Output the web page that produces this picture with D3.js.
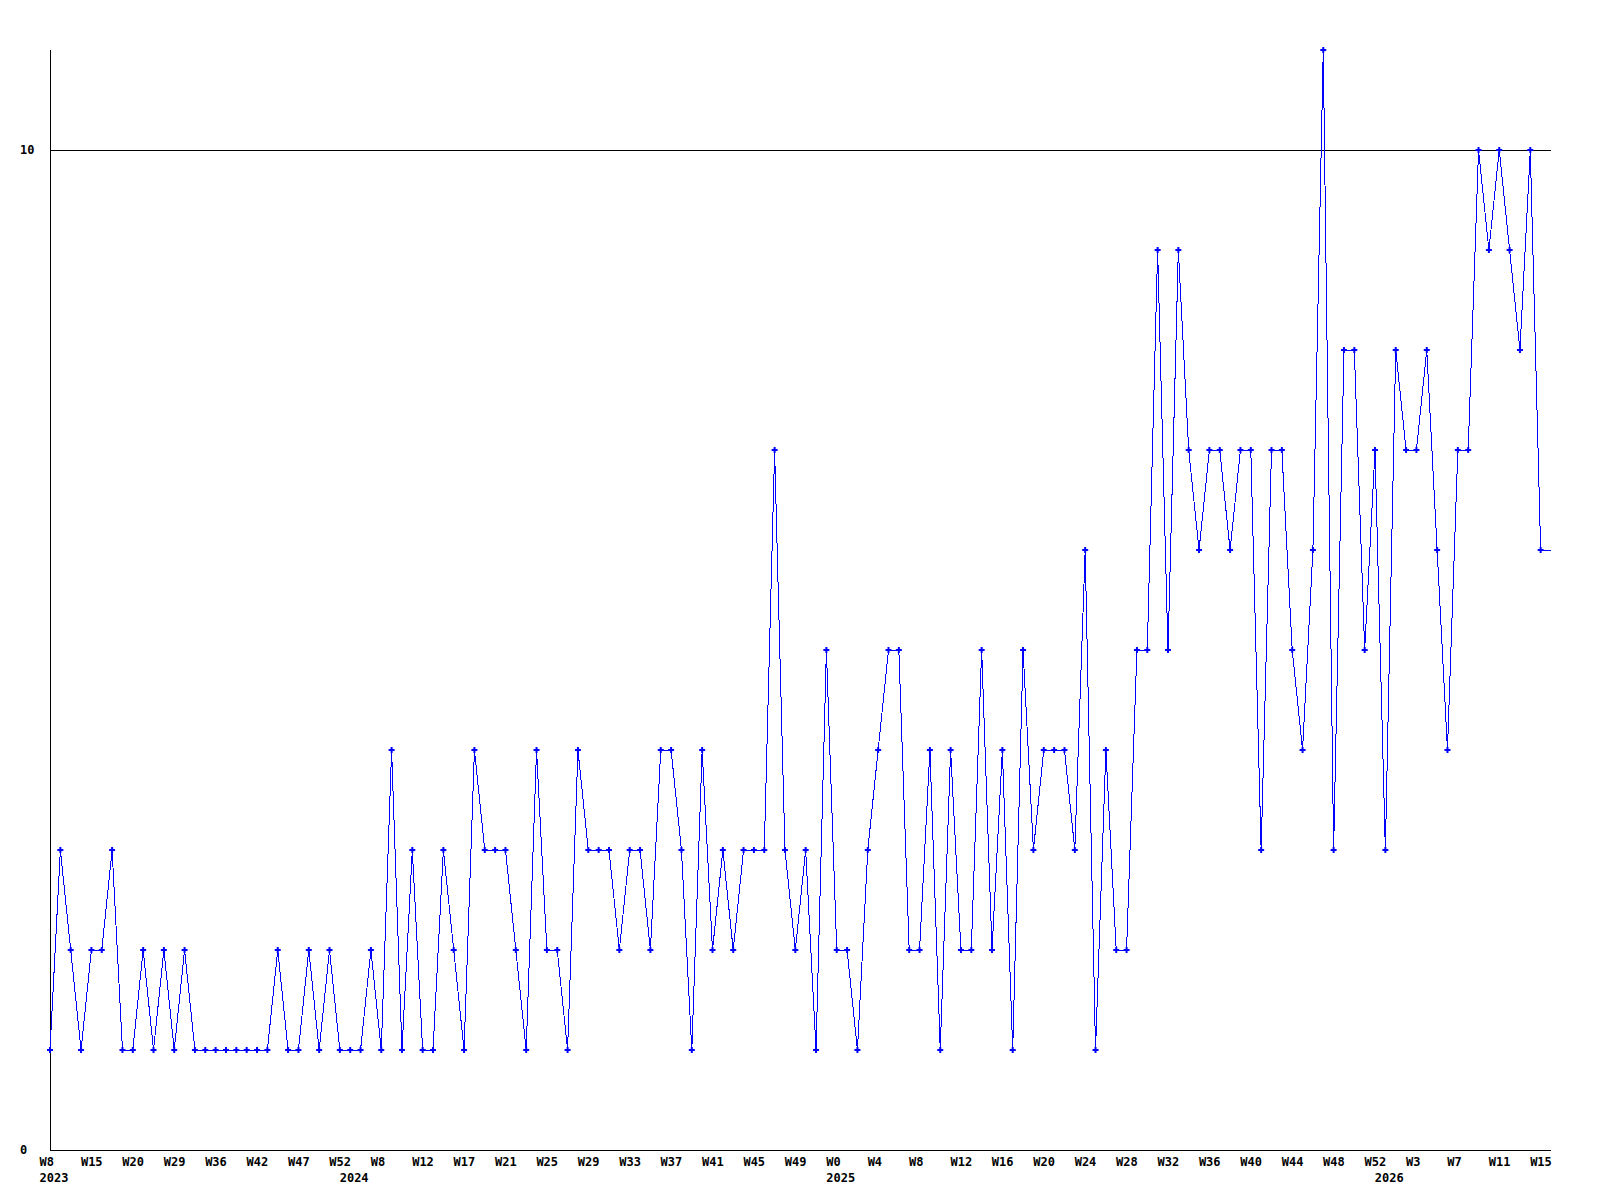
<!DOCTYPE html>
<html>
<head>
<meta charset="utf-8">
<script src="https://cdn.jsdelivr.net/npm/d3@7"></script>
<style>
  body { margin: 0; background: #fff; }
  text { font-family: "DejaVu Sans Mono", monospace; font-weight: bold; font-size: 12px; fill: #000; }
</style>
</head>
<body>
<div id="chart"></div>
<script>
// one value per point, oldest first
const values = [
  1, 3, 2, 1, 2, 2, 3, 1, 1, 2, 1, 2, 1, 2, 1, 1, 1, 1, 1, 1,
  1, 1, 2, 1, 1, 2, 1, 2, 1, 1, 1, 2, 1, 4, 1, 3, 1, 1, 3, 2,
  1, 4, 3, 3, 3, 2, 1, 4, 2, 2, 1, 4, 3, 3, 3, 2, 3, 3, 2, 4,
  4, 3, 1, 4, 2, 3, 2, 3, 3, 3, 7, 3, 2, 3, 1, 5, 2, 2, 1, 3,
  4, 5, 5, 2, 2, 4, 1, 4, 2, 2, 5, 2, 4, 1, 5, 3, 4, 4, 4, 3,
  6, 1, 4, 2, 2, 5, 5, 9, 5, 9, 7, 6, 7, 7, 6, 7, 7, 3, 7, 7,
  5, 4, 6, 11, 3, 8, 8, 5, 7, 3, 8, 7, 7, 8, 6, 4, 7, 7, 10, 9,
  10, 9, 8, 10, 6
];

// label on every 4th point
const weekLabels = [
  "W8", "W15", "W20", "W29", "W36", "W42", "W47", "W52",
  "W8", "W12", "W17", "W21", "W25", "W29", "W33", "W37", "W41", "W45", "W49",
  "W0", "W4", "W8", "W12", "W16", "W20", "W24", "W28", "W32", "W36", "W40", "W44", "W48", "W52",
  "W3", "W7", "W11", "W15"
];

// first point of each year
const years = ["2023", "2024", "2025", "2026"];
const yearStart = [0, 29, 76, 129];

const yTicks = [0, 10];

(function() {
  const width = 1600;
  const height = 1200;
  const x0 = 50, x1 = 1551, yTop = 50, yBottom = 1150;

  const svg = d3.select("#chart")
    .append("svg")
    .attr("width", width)
    .attr("height", height);

  const x = d3.scaleLinear()
    .domain([0, values.length])
    .range([x0, x1]);

  const y = d3.scaleLinear()
    .domain([0, 11])
    .range([yBottom, yTop]);

  // horizontal line at 10
  svg.append("line")
    .attr("x1", x0).attr("x2", x1)
    .attr("y1", y(10) + 0.5).attr("y2", y(10) + 0.5)
    .attr("stroke", "#000");

  // axes
  svg.append("line")
    .attr("x1", x0 + 0.5).attr("x2", x0 + 0.5)
    .attr("y1", yTop).attr("y2", yBottom + 1)
    .attr("stroke", "#000");
  svg.append("line")
    .attr("x1", x0).attr("x2", x1)
    .attr("y1", yBottom + 0.5).attr("y2", yBottom + 0.5)
    .attr("stroke", "#000");

  // y labels
  svg.selectAll(".ylab")
    .data(yTicks)
    .enter().append("text")
    .attr("class", "ylab")
    .attr("x", 20)
    .attr("y", d => y(d) + 4)
    .text(d => d);

  // week labels
  svg.selectAll(".wlab")
    .data(weekLabels)
    .enter().append("text")
    .attr("class", "wlab")
    .attr("x", (d, i) => x(i * 4) - 10.5)
    .attr("y", 1166)
    .text(d => d);

  // year labels
  svg.selectAll(".yrlab")
    .data(years)
    .enter().append("text")
    .attr("class", "yrlab")
    .attr("x", (d, i) => x(yearStart[i]) - 10.5)
    .attr("y", 1182)
    .text(d => d);

  // line, carried on flat to the right edge
  const pts = values.map((v, i) => [x(i), y(v)]);
  pts.push([x(values.length), y(values[values.length - 1])]);

  svg.append("path")
    .attr("d", d3.line()(pts))
    .attr("fill", "none")
    .attr("stroke", "#0000ff")
    .attr("stroke-width", 1)
    .attr("shape-rendering", "crispEdges");

  // markers
  svg.selectAll(".pt")
    .data(values)
    .enter().append("path")
    .attr("class", "pt")
    .attr("transform", (d, i) => `translate(${x(i)},${y(d)})`)
    .attr("d", d3.symbol(d3.symbolCross).size(20))
    .attr("fill", "#0000ff");
})();
</script>
</body>
</html>
